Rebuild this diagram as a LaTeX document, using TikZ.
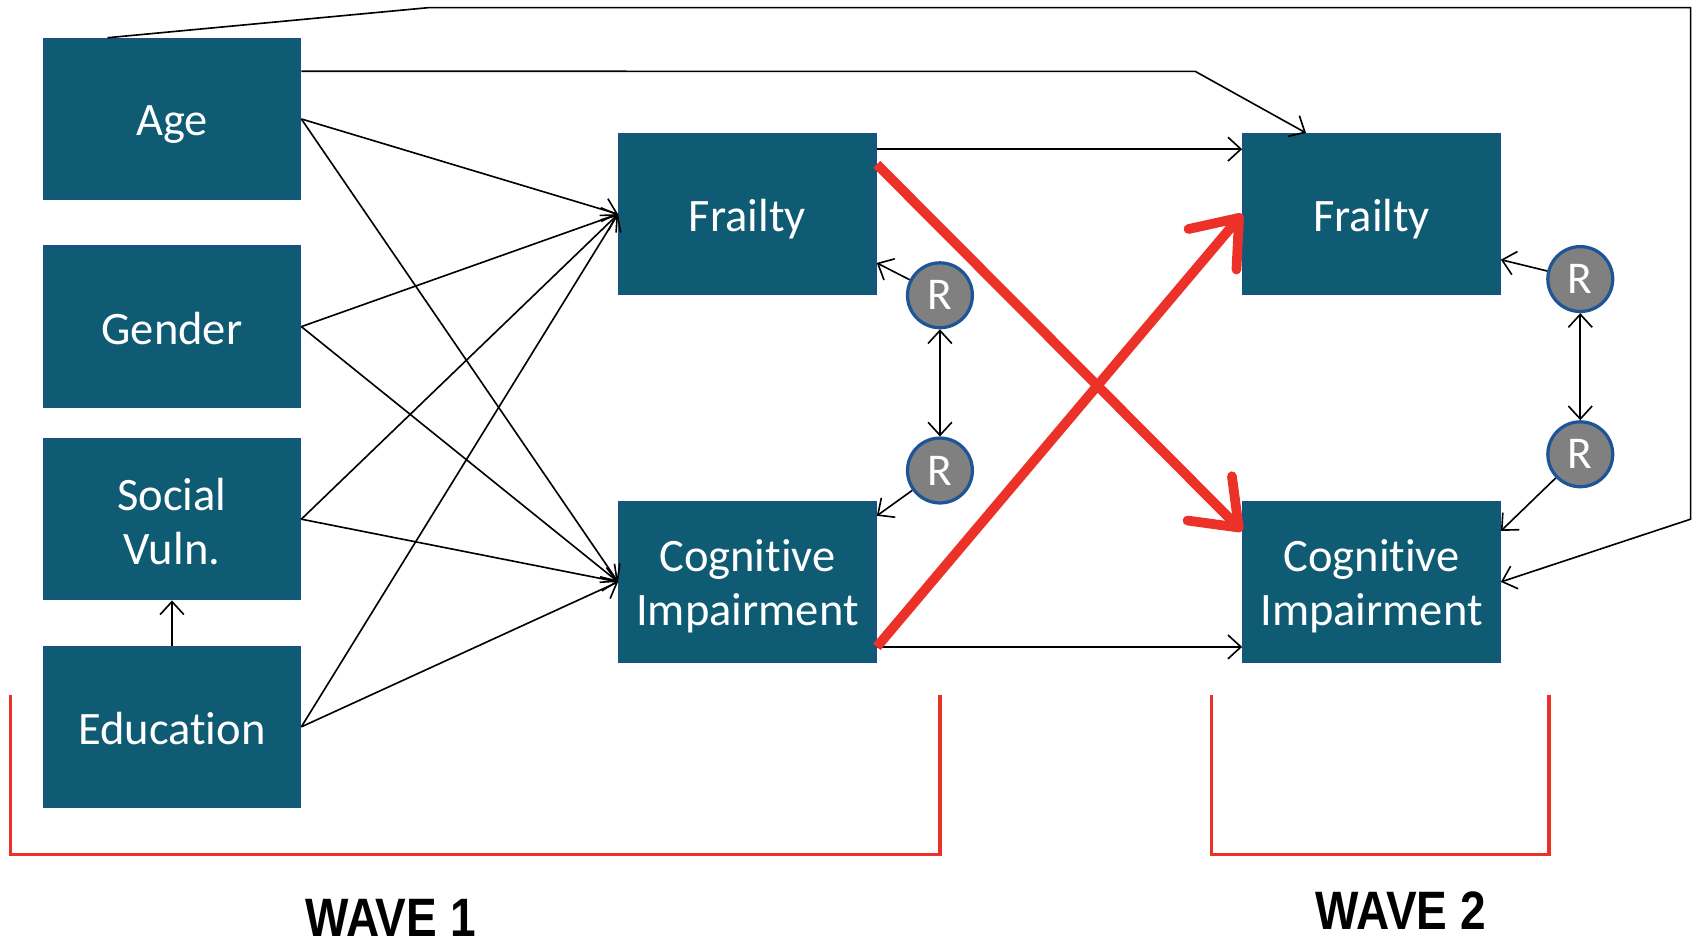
\documentclass[tikz,border=0pt]{standalone}
\usepackage{fontspec}
\setmainfont{Carlito}[Ligatures={NoCommon}]
\newfontfamily\wavefont[FakeStretch=0.85]{Liberation Sans}
\usetikzlibrary{arrows.meta}
\definecolor{boxfill}{RGB}{15,91,116}
\definecolor{boxline}{RGB}{28,78,140}
\definecolor{rgray}{RGB}{128,128,128}
\definecolor{rline}{RGB}{30,85,150}
\definecolor{wred}{RGB}{236,50,40}
\begin{document}
\begin{tikzpicture}[x=0.5pt,y=-0.5pt,
  box/.style={draw=boxline, line width=0.6pt, fill=boxfill, minimum width=119pt, minimum height=74.5pt, inner sep=0pt},
  boxtext/.style={text=white, font=\fontsize{21.5}{25}\selectfont, align=center, inner sep=0pt},
  rnode/.style={circle, draw=rline, line width=1.5pt, fill=rgray, minimum size=30pt, inner sep=0pt, text=white, font=\fontsize{21}{24}\selectfont},
  conn/.style={line width=0.75pt, -{Straight Barb[length=6pt,width=11pt]}},
  dconn/.style={line width=0.75pt, {Straight Barb[length=6pt,width=11pt]}-{Straight Barb[length=6pt,width=11pt]}},
  bigred/.style={draw=wred, line width=4.5pt, -{Straight Barb[round,length=19pt,width=29pt]}},
  bracket/.style={draw=wred, line width=1.5pt},
  wave/.style={font=\wavefont\bfseries\fontsize{25}{30}\selectfont, inner sep=0pt, anchor=base}]
\useasboundingbox (0,0) rectangle (1568,876);

\node[box] (age) at (159,110) {};
\node[box] (gender) at (159,302) {};
\node[box] (social) at (159,480) {};
\node[box] (edu) at (159,672) {};
\node[box] (frail1) at (691,198) {};
\node[box] (cog1) at (691,538) {};
\node[box] (frail2) at (1268,198) {};
\node[box] (cog2) at (1268,538) {};

\node[boxtext] (agetxt) at ([yshift=-2.5pt]age.center) {Age};
\node[boxtext] (gendertxt) at ([yshift=-1pt]gender.center) {Gender};
\node[boxtext] (socialtxt) at ([yshift=-1pt]social.center) {Social\\Vuln.};
\node[boxtext] (edutxt) at ([yshift=-1pt]edu.center) {Education};
\node[boxtext] (frail1txt) at ([yshift=-2.5pt]frail1.center) {Frailty};
\node[boxtext] (cog1txt) at ([yshift=-2pt]cog1.center) {Cognitive\\Impairment};
\node[boxtext] (frail2txt) at ([yshift=-2.5pt]frail2.center) {Frailty};
\node[boxtext] (cog2txt) at ([yshift=-2pt]cog2.center) {Cognitive\\Impairment};

\node[rnode] (r1a) at (869,273) {R};
\node[rnode] (r1b) at (869,435) {R};
\node[rnode] (r2a) at (1461,258) {R};
\node[rnode] (r2b) at (1461,420) {R};

\foreach \s in {age,gender,social,edu} {
  \draw[conn] (\s.east) -- (frail1.west);
  \draw[conn] (\s.east) -- (cog1.west);
}
\draw[conn] (edu.north) -- (social.south);

\coordinate (t1) at (397,7);
\coordinate (t2) at (1563,7);
\coordinate (t3) at (1563,480);
\draw[conn] ([xshift=30pt]age.north west) -- (t1) -- (t2) -- (t3) -- (cog2.east);

\coordinate (m1) at (1105,66);
\draw[conn] ([yshift=-15.5pt]age.north east) -- (m1) -- ([xshift=29.5pt]frail2.north west);

\draw[conn] ([yshift=-7.5pt]frail1.north east) -- ([yshift=-7.5pt]frail2.north west);
\draw[conn] ([yshift=7.5pt]cog1.south east) -- ([yshift=7.5pt]cog2.south west);

\draw[conn] (r1a) -- ([yshift=15pt]frail1.south east);
\draw[conn] (r1b) -- ([yshift=-7pt]cog1.north east);
\draw[dconn] (r1a) -- (r1b);
\draw[conn] (r2a) -- ([yshift=16.5pt]frail2.south east);
\draw[conn] (r2b) -- ([yshift=-14pt]cog2.north east);
\draw[dconn] (r2a) -- (r2b);

\draw[bigred] ([yshift=-14.5pt]frail1.north east) -- ([yshift=-14pt]cog2.north west);
\draw[bigred] ([yshift=7.5pt]cog1.south east) -- (frail2.west);

\draw[bracket] (10,643) -- (10,790) -- (869,790) -- (869,643);
\draw[bracket] (1120,643) -- (1120,790) -- (1432,790) -- (1432,643);

\node[wave] (w1) at (361,866) {WAVE 1};
\node[wave] (w2) at (1295,859) {WAVE 2};
\end{tikzpicture}
\end{document}
